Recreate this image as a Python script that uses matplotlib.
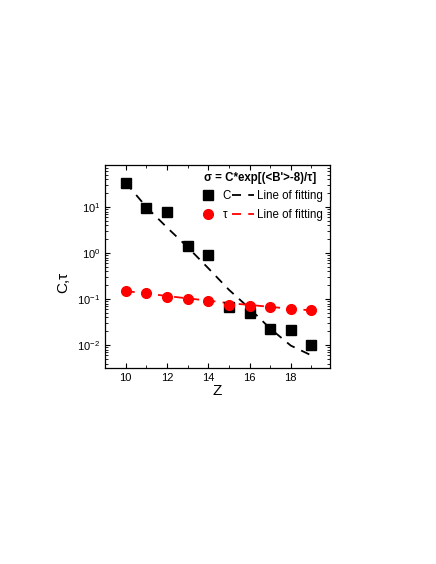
import numpy as np
import matplotlib
matplotlib.use('Agg')
import matplotlib.pyplot as plt
from matplotlib.lines import Line2D
from matplotlib.ticker import LogLocator, MultipleLocator

plt.rcParams['font.family'] = ['Liberation Sans', 'DejaVu Sans']
plt.rcParams['mathtext.fontset'] = 'custom'
plt.rcParams['mathtext.rm'] = 'Liberation Sans'
plt.rcParams['mathtext.it'] = 'Liberation Sans:italic'
plt.rcParams['mathtext.bf'] = 'Liberation Sans:bold'

# values
z = [10, 11, 12, 13, 14, 15, 16, 17, 18, 19]
c_vals = [33.7, 9.4, 7.7, 1.42, 0.93, 0.068, 0.049, 0.022, 0.021, 0.0102]
c_err = [0, 0, 0, 0, 0, 0, 0, 0, 0, 0.002]
tau_vals = [0.151, 0.135, 0.114, 0.100, 0.090, 0.075, 0.072, 0.066, 0.062, 0.058]
c_fit = [34, 10, 3.6, 1.35, 0.47, 0.16, 0.063, 0.023, 0.0098, 0.0060]
tau_fit = [0.150, 0.133, 0.117, 0.104, 0.093, 0.082, 0.075, 0.068, 0.062, 0.057]

fig = plt.figure(figsize=(4.36, 5.64), dpi=100)
ax = fig.add_axes([0.241, 0.3475, 0.516, 0.36])

ax.plot(z, c_fit, '--', color='black', lw=1.3, dashes=(5, 4), zorder=2)
ax.plot(z, tau_fit, '--', color='red', lw=1.3, dashes=(5, 4), zorder=2)
ax.errorbar(z, c_vals, yerr=c_err, fmt='none', ecolor='gray', elinewidth=0.8, capsize=2, zorder=3)
ax.plot(z, c_vals, 's', color='black', ms=6.5, ls='none', zorder=4)
ax.plot(z, tau_vals, 'o', color='red', ms=7, ls='none', zorder=5)

ax.set_yscale('log')
ax.set_xlim(9, 19.9)
ax.set_ylim(0.0032, 82)
ax.xaxis.set_major_locator(MultipleLocator(2))
ax.xaxis.set_minor_locator(MultipleLocator(1))
ax.yaxis.set_major_locator(LogLocator(base=10, numticks=10))
ax.yaxis.set_minor_locator(LogLocator(base=10, subs=np.arange(2, 10), numticks=10))
ax.tick_params(which='both', direction='in', top=True, right=True, labelsize=8)
ax.tick_params(which='major', length=3.5, width=0.8)
ax.tick_params(which='minor', length=2, width=0.6)
for s in ax.spines.values():
    s.set_linewidth(0.9)

ax.set_xlabel('Z', fontsize=11, labelpad=1)
ax.set_ylabel('C,τ', fontsize=11)
ax.yaxis.set_label_coords(-0.155, 0.42)

handles = [Line2D([], [], marker='s', color='black', ms=6.5, ls='none'),
           Line2D([], [], marker='o', color='red', ms=7, ls='none'),
           Line2D([], [], color='black', ls='--', lw=1.3, dashes=(5, 4)),
           Line2D([], [], color='red', ls='--', lw=1.3, dashes=(5, 4))]
labels = ['C', 'τ', 'Line of fitting', 'Line of fitting']
leg = ax.legend(handles, labels, ncol=2, loc='upper right', frameon=False,
                fontsize=8.3, title="σ = C*exp[(<B'>-8)/τ]",
                title_fontproperties={'weight': 'bold', 'size': 8.3},
                handlelength=1.9, handletextpad=0.3, columnspacing=0.1,
                borderaxespad=0.2, labelspacing=0.55)

fig.savefig('out.png', dpi=100)
